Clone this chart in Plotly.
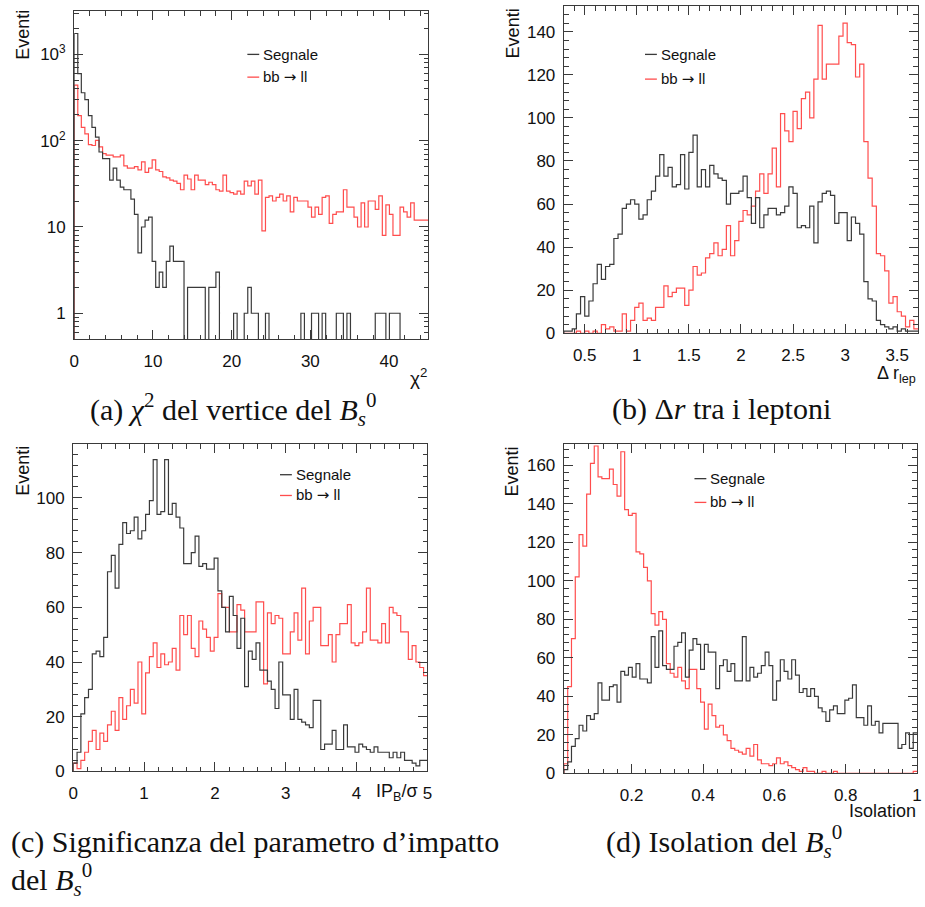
import numpy as np
import plotly.graph_objects as go

W, H = 925, 907

# ---------------- DATA ----------------
# (a) chi2 of the B_s vertex : 100 bins, 0..45
chi2_edges = np.linspace(0, 45, 101)
chi2_sig = [1750, 600, 360, 300, 195, 143, 110, 74, 62, 62,
            35, 48, 35, 29, 27, 27, 21, 14, 5, 10,
            12, 13, 4, 2, 3, 2, 4, 6, 4, 4,
            4, 0, 2, 2, 2, 2, 2, 0, 2, 2,
            3, 0, 0, 0, 0, 1, 0, 0, 1, 2,
            1, 1, 0, 0, 1, 0, 0, 0, 0, 0,
            0, 0, 0, 0, 1, 0, 0, 1, 1, 0,
            1, 0, 0, 0, 1, 1, 0, 1, 0, 0,
            0, 0, 0, 0, 0, 1, 1, 1, 0, 1,
            1, 1, 0, 0, 0, 0, 0, 0, 0, 0]
chi2_bkg = [440, 195, 143, 120, 90, 88, 101, 85, 71, 68,
            68, 65, 65, 68, 51, 48, 48, 50, 46, 57,
            43, 48, 60, 46, 44, 38, 37, 35, 34, 32,
            27, 40, 36, 27, 40, 35, 35, 31, 33, 31,
            27, 26, 40, 26, 25, 24, 26, 24, 34, 30,
            34, 24, 35, 9, 22, 23, 20, 22, 24, 20,
            23, 15, 22, 20, 20, 20, 17, 13, 17, 14,
            22, 23, 11, 14, 15, 15, 27, 17, 17, 13,
            10, 19, 10, 20, 20, 16, 23, 8, 18, 14,
            8, 8, 17, 15, 13, 19, 12, 12, 12, 12]

# (b) Delta r between leptons : 85 bins, 0.3..3.7
dr_edges = np.linspace(0.3, 3.7, 86)
dr_sig = [1, 1, 2, 9, 17, 8, 15, 23, 32, 25,
          31, 32, 44, 46, 58, 60, 62, 60, 53, 55,
          62, 66, 73, 83, 73, 77, 68, 69, 83, 67,
          84, 92, 68, 76, 68, 78, 74, 72, 71, 60,
          65, 65, 66, 73, 63, 51, 63, 49, 55, 58,
          58, 55, 56, 59, 68, 65, 49, 50, 49, 59,
          42, 61, 65, 66, 64, 51, 56, 56, 43, 54,
          51, 46, 24, 16, 15, 6, 4, 3, 2, 3,
          1, 2, 1, 1, 1]
dr_bkg = [0, 0, 0, 1, 0, 1, 0, 1, 0, 4,
          2, 3, 1, 1, 9, 1, 6, 12, 14, 6,
          7, 6, 12, 12, 22, 17, 19, 21, 21, 13,
          20, 31, 27, 28, 35, 37, 42, 36, 39, 50,
          36, 43, 52, 57, 55, 59, 66, 74, 65, 74,
          86, 68, 102, 94, 89, 103, 95, 109, 112, 100,
          118, 143, 118, 125, 125, 125, 138, 144, 135, 134,
          119, 125, 89, 72, 59, 37, 36, 29, 14, 17,
          10, 8, 3, 6, 2]

# (c) impact parameter significance : 93 bins, 0..5
ip_edges = np.linspace(0, 5, 94)
ip_sig = [3, 7, 21, 27, 30, 43, 44, 42, 49, 73,
          79, 67, 83, 91, 87, 88, 93, 85, 88, 94,
          99, 114, 94, 95, 114, 94, 98, 93, 89, 76,
          76, 80, 86, 75, 76, 74, 74, 78, 66, 60,
          51, 64, 57, 45, 56, 31, 44, 41, 47, 37,
          37, 33, 30, 23, 40, 28, 28, 19, 30, 19,
          18, 17, 16, 26, 26, 8, 10, 10, 15, 8,
          8, 17, 9, 9, 7, 10, 9, 8, 7, 9,
          7, 7, 7, 5, 7, 5, 7, 4, 4, 3,
          2, 4, 4]
ip_bkg = [3, 1, 4, 7, 11, 15, 8, 14, 11, 17,
          22, 15, 27, 19, 24, 30, 25, 40, 21, 36,
          42, 47, 38, 43, 39, 40, 45, 37, 57, 50,
          57, 45, 42, 55, 52, 49, 44, 49, 65, 60,
          60, 51, 51, 61, 59, 51, 51, 51, 62, 62,
          32, 58, 54, 57, 56, 43, 43, 51, 58, 48,
          67, 43, 55, 60, 60, 46, 46, 50, 40, 50,
          54, 54, 61, 47, 46, 47, 51, 67, 48, 48,
          47, 54, 47, 60, 58, 57, 51, 51, 41, 46,
          40, 38, 35]

# (d) isolation : 93 bins, 0.01..1.0
iso_edges = np.linspace(0.01, 1.0, 94)
iso_sig = [2, 6, 14, 18, 25, 22, 30, 28, 31, 47,
           38, 38, 45, 46, 37, 53, 51, 55, 50, 57,
           49, 49, 47, 71, 55, 74, 56, 54, 54, 66,
           68, 73, 50, 64, 70, 67, 54, 67, 63, 63,
           44, 56, 59, 53, 57, 48, 48, 71, 48, 55,
           50, 52, 56, 63, 56, 38, 48, 59, 53, 49,
           59, 51, 42, 44, 40, 44, 40, 34, 32, 27,
           33, 35, 31, 31, 38, 39, 46, 29, 29, 25,
           35, 25, 27, 21, 26, 26, 26, 26, 13, 15,
           21, 13, 21]
iso_bkg = [5, 45, 70, 102, 124, 118, 145, 161, 170, 154,
           153, 153, 158, 150, 144, 167, 137, 134, 135, 115,
           114, 107, 100, 83, 77, 84, 80, 57, 52, 50,
           55, 48, 44, 54, 54, 44, 37, 23, 36, 30,
           24, 25, 20, 17, 13, 12, 11, 10, 13, 9,
           15, 7, 5, 5, 4, 5, 8, 5, 6, 4,
           3, 2, 1, 3, 1, 1, 0, 0, 1, 0,
           0, 1, 0, 0, 0, 0, 0, 0, 0, 0,
           0, 0, 0, 0, 0, 0, 0, 0, 0, 0,
           0, 0, 1]

SIG_NAME = "Segnale"
BKG_NAME = "bb <span style='font-family:DejaVu Sans'>\u2192</span> ll"

# ---------------- STYLE ----------------
SIG_COL = "#3a3a3a"
BKG_COL = "#ff4d4d"
FRAME = "#3a3a3a"
SANS = "Liberation Sans, Arial, sans-serif"
SERIF = "Liberation Serif, Times New Roman, serif"
CAP = 30


def fx(p):
    return p / W


def fy(p):
    return 1 - p / H


def step(edges, vals, floor=0.0, log=False):
    v = np.asarray(vals, dtype=float)
    if log:
        v = np.where(v > 0, v, floor)
    x = [edges[0]] + list(edges[:-1]) + [edges[-1]]
    y = [floor] + list(v) + [v[-1]]
    return x, y


fig = go.Figure()

panels = [
    ("1", chi2_edges, chi2_sig, chi2_bkg, True),
    ("2", dr_edges, dr_sig, dr_bkg, False),
    ("3", ip_edges, ip_sig, ip_bkg, False),
    ("4", iso_edges, iso_sig, iso_bkg, False),
]

for key, edges, sig, bkg, log in panels:
    xa = "x" if key == "1" else "x" + key
    ya = "y" if key == "1" else "y" + key
    floor = 1e-3 if log else 0.0
    for vals, col in ((bkg, BKG_COL), (sig, SIG_COL)):
        x, y = step(edges, vals, floor, log)
        fig.add_trace(go.Scatter(x=x, y=y, mode="lines", line_shape="hv",
                                 line=dict(color=col, width=1.2),
                                 xaxis=xa, yaxis=ya, showlegend=False,
                                 hoverinfo="skip"))

axis_common = dict(showline=True, linecolor=FRAME, linewidth=1.3, mirror="allticks",
                   ticks="inside", ticklen=9, tickcolor=FRAME, tickwidth=1,
                   showgrid=False, zeroline=False,
                   tickfont=dict(family=SANS, size=17, color="#111"))


def minor(d):
    return dict(ticks="inside", ticklen=4.5, tickcolor=FRAME, dtick=d, showgrid=False)


layout = dict(width=W, height=H, margin=dict(l=0, r=0, t=0, b=0),
              paper_bgcolor="white", plot_bgcolor="white", showlegend=False)

minor_log = [m * 10 ** e for e in range(-1, 4) for m in range(2, 10)]
minor_log = [v for v in minor_log if 0.5 <= v <= 3200]
layout["xaxis"] = dict(axis_common, domain=[fx(70), fx(428)], range=[0, 45], dtick=10,
                       tick0=0, minor=minor(2), anchor="y", ticklabelstandoff=6)
layout["yaxis"] = dict(axis_common, domain=[fy(343), fy(11)], type="log",
                       range=[np.log10(0.5), np.log10(3200)],
                       tickvals=[1, 10, 100, 1000],
                       ticktext=["1", "10", "10<sup>2</sup>", "10<sup>3</sup>"],
                       minor=dict(ticks="inside", ticklen=4.5, tickcolor=FRAME,
                                  tickvals=minor_log, showgrid=False),
                       anchor="x", ticklabelstandoff=4)
layout["xaxis2"] = dict(axis_common, domain=[fx(565), fx(923)], range=[0.3, 3.7], dtick=0.5,
                        tick0=0, minor=minor(0.1), anchor="y2", ticklabelstandoff=6)
layout["yaxis2"] = dict(axis_common, domain=[fy(337), fy(6)], range=[0, 152], dtick=20,
                        minor=minor(4), anchor="x2", ticklabelstandoff=4)
layout["xaxis3"] = dict(axis_common, domain=[fx(69), fx(427)], range=[0, 5], dtick=1,
                        minor=minor(0.2), anchor="y3", ticklabelstandoff=6)
layout["yaxis3"] = dict(axis_common, domain=[fy(780), fy(449)], range=[0, 119.7], dtick=20,
                        minor=minor(4), anchor="x3", ticklabelstandoff=4)
layout["xaxis4"] = dict(axis_common, domain=[fx(565), fx(922)], range=[0.01, 1.0], dtick=0.2,
                        tick0=0, minor=minor(0.04), anchor="y4", ticklabelstandoff=6)
layout["yaxis4"] = dict(axis_common, domain=[fy(782), fy(449)], range=[0, 171], dtick=20,
                        minor=minor(4), anchor="x4", ticklabelstandoff=4)

fig.update_layout(**layout)

ann = []
shapes = []


def text(x, y, t, size=17, family=SANS, xanchor="center", yanchor="middle",
         angle=0, align="left", color="#111"):
    ann.append(dict(x=fx(x), y=fy(y), xref="paper", yref="paper", text=t,
                    showarrow=False, xanchor=xanchor, yanchor=yanchor,
                    textangle=angle, align=align,
                    font=dict(family=family, size=size, color=color)))


for xp, yp in ((18, 8), (513, 6), (18, 449), (513, 449)):
    text(xp, yp, "Eventi", size=18, angle=-90, yanchor="top")

text(429, 381, "\u03c7<sup>2</sup>", size=19, xanchor="right")
text(923, 379, "\u0394 r<sub>lep</sub>", size=18, xanchor="right")
text(420, 801, "IP<sub>B</sub>/\u03c3", size=18, xanchor="right")
text(923, 820, "Isolation", size=18, xanchor="right")

# legends: short sample line + label
legs = [(245, 55, 78), (647, 55, 80), (278, 480, 501), (697, 484, 508)]
for lx, ly1, ly2 in legs:
    for ly, col, name in ((ly1, SIG_COL, SIG_NAME), (ly2, BKG_COL, BKG_NAME)):
        shapes.append(dict(type="line", xref="paper", yref="paper",
                           x0=fx(lx), x1=fx(lx + 12), y0=fy(ly), y1=fy(ly),
                           line=dict(color=col, width=1.3)))
        text(lx + 14, ly, name, size=15, xanchor="left")

BS = "<i>B</i><sub><i>s</i></sub><sup>0</sup>"
text(230, 414, f"(a) <i>\u03c7</i><sup>2</sup> del vertice del {BS}", size=CAP, family=SERIF)
text(724, 414, "(b) \u0394<i>r</i> tra i leptoni", size=CAP, family=SERIF)
text(4, 851, "(c) Significanza del parametro d\u2019impatto", size=CAP,
     family=SERIF, xanchor="left")
text(4, 889, f"del {BS}", size=CAP, family=SERIF, xanchor="left")
text(606, 851, f"(d) Isolation del {BS}", size=CAP, family=SERIF, xanchor="left")

fig.update_layout(annotations=ann, shapes=shapes)
fig.write_html("out.html")
